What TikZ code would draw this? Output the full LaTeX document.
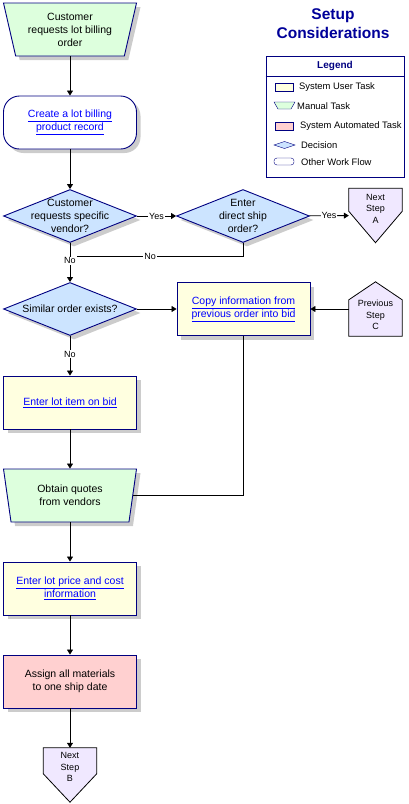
\documentclass[tikz,border=0pt]{standalone}
\usepackage{fontspec}
\setmainfont{Liberation Sans}
\usepackage{tikz}
\usetikzlibrary{positioning, shapes.geometric, shadows, arrows.meta}

\definecolor{navyline}{HTML}{000080}
\definecolor{titleblue}{HTML}{000099}
\definecolor{linkblue}{HTML}{0000FF}
\definecolor{manualfill}{HTML}{DDFFDD}
\definecolor{userfill}{HTML}{FFFFE0}
\definecolor{autofill}{HTML}{FFD0D0}
\definecolor{decisionfill}{HTML}{CCE4FF}
\definecolor{stepfill}{HTML}{F0E8FF}

\newcommand{\tasklink}[1]{\textcolor{linkblue}{\underline{#1}}}

\tikzset{
  boxtext/.style={font=\fontsize{10.5}{13}\selectfont, align=center},
  smalltext/.style={font=\fontsize{9.4}{11.5}\selectfont},
  taskshadow/.style={drop shadow={shadow xshift=4pt, shadow yshift=-4pt, fill=black!20, opacity=1}},
  taskbox/.style={rectangle, draw=navyline, line width=0.9pt, minimum width=133pt, minimum height=53pt, inner sep=2pt, boxtext, taskshadow},
  usertask/.style={taskbox, fill=userfill},
  autotask/.style={taskbox, fill=autofill},
  workflow/.style={taskbox, fill=white, rounded corners=16pt},
  manualtask/.style={trapezium, shape border rotate=180, trapezium stretches body=true, trapezium angle=70, draw=navyline, line width=0.9pt, fill=manualfill, minimum width=133pt, minimum height=53pt, inner sep=0pt, boxtext, taskshadow},
  decision/.style={diamond, draw=navyline, line width=0.9pt, fill=decisionfill, minimum width=133pt, minimum height=53pt, inner sep=0pt, taskshadow},
  decisiontext/.style={boxtext, inner sep=0pt},
  stepnode/.style={rectangle, minimum width=53pt, minimum height=54pt, inner sep=0pt},
  stepshape/.style={draw=black, line width=0.8pt, fill=stepfill},
  steptext/.style={font=\fontsize{9}{11.5}\selectfont, align=center, inner sep=0pt},
  flow/.style={line width=0.8pt, -{Triangle[length=5pt, width=6pt]}},
  plainflow/.style={line width=0.8pt},
  yesno/.style={font=\fontsize{9}{11.5}\selectfont, fill=white, inner sep=1pt},
}

\begin{document}
\begin{tikzpicture}[x=1pt, y=-1pt]
  \useasboundingbox (0,0) rectangle (409,804);

  % title and legend
  \node[font=\fontsize{15.5}{19}\selectfont\bfseries, text=titleblue, align=center] (title) at (333,24) {Setup\\Considerations};
  \node[draw=navyline, line width=0.9pt, minimum width=138pt, minimum height=121pt, inner sep=0pt] (legend) at (335,116.5) {};
  \draw[navyline, line width=0.9pt] (legend.north west) ++(0,21) -- ++(138,0);
  \node[font=\fontsize{10}{12}\selectfont\bfseries, text=navyline] (legendtitle) at (335,66) {Legend};
  \draw[navyline, fill=userfill] (275,83) rectangle (293,91);
  \draw[navyline, fill=manualfill] (274,102) -- (295,102) -- (291,109) -- (278,109) -- cycle;
  \draw[navyline, fill=autofill] (275,122) rectangle (293,130);
  \draw[navyline, fill=decisionfill] (274,145) -- (284.5,141.5) -- (295,145) -- (284.5,148.5) -- cycle;
  \draw[navyline, rounded corners=3pt] (274,158) rectangle (294,165);
  \foreach \x/\y/\t in {299/87/System User Task, 297/106/Manual Task, 300/126/System Automated Task, 301/145/Decision, 301/162/Other Work Flow}
  {
  \node[smalltext, anchor=west, inner sep=0pt] (leg\y) at (\x,\y) {\t};
  }

  % main flow
  \node[manualtask] (order) at (70,29.5) {Customer\\requests lot billing\\order};
  \node[workflow] (billing) at (70,122.5) {\tasklink{Create a lot billing}\\\tasklink{product record}};
  \node[decision, label={[decisiontext]center:{Customer\\requests specific\\vendor?}}] (vendor) at (70,216) {};
  \node[decision, label={[decisiontext]center:{Enter\\direct ship\\order?}}] (direct) at (243,216) {};
  \node[decision, label={[decisiontext]center:{Similar order exists?}}] (similar) at (70,309) {};
  \node[usertask] (copy) at (243.5,309) {\tasklink{Copy information from}\\\tasklink{previous order into bid}};
  \node[usertask] (item) at (70,402.5) {\tasklink{Enter lot item on bid}};
  \node[manualtask] (quotes) at (70,495.5) {Obtain quotes\\from vendors};
  \node[usertask] (price) at (70,588.5) {\tasklink{Enter lot price and cost}\\\tasklink{information}};
  \node[autotask] (assign) at (70,681.5) {Assign all materials\\to one ship date};

  % off-page steps
  \node[stepnode] (nexta) at (375.5,215.5) {};
  \draw[stepshape] (nexta.north west) -- (nexta.north east) -- ([yshift=-23pt]nexta.north east) -- (nexta.south) -- ([yshift=-23pt]nexta.north west) -- cycle;
  \node[steptext] (nextatext) at ([yshift=7pt]nexta.center) {Next\\Step\\A};
  \node[stepnode] (prevc) at (375.5,309) {};
  \draw[stepshape] (prevc.north) -- ([yshift=-18pt]prevc.north east) -- (prevc.south east) -- (prevc.south west) -- ([yshift=-18pt]prevc.north west) -- cycle;
  \node[steptext] (prevctext) at ([yshift=-6pt]prevc.center) {Previous\\Step\\C};
  \node[stepnode] (nextb) at (70,775) {};
  \draw[stepshape] (nextb.north west) -- (nextb.north east) -- ([yshift=-26pt]nextb.north east) -- (nextb.south) -- ([yshift=-26pt]nextb.north west) -- cycle;
  \node[steptext] (nextbtext) at ([yshift=8pt]nextb.center) {Next\\Step\\B};

  % connectors
  \coordinate (noend) at (77,256);
  \draw[flow] (billing.north |- order.south) -- (billing.north);
  \draw[flow] (billing) -- (vendor);
  \draw[flow] (vendor) -- node[yesno] {Yes} (direct);
  \draw[flow] (direct) -- node[yesno] {Yes} (nexta);
  \draw[flow] (vendor) -- node[yesno, pos=0.46] (novendor) {No} (similar);
  \draw[plainflow] (direct) |- node[yesno, pos=0.78] {No} (noend);
  \draw[flow] (similar) -- (copy);
  \draw[flow] (prevc) -- (copy);
  \draw[flow] (similar) -- node[yesno, pos=0.46] {No} (item);
  \draw[plainflow] (copy) |- (quotes);
  \draw[flow] (item.south) -- (item.south |- quotes.north);
  \draw[flow] (price.north |- quotes.south) -- (price.north);
  \draw[flow] (price) -- (assign);
  \draw[flow] (assign) -- (nextb);
\end{tikzpicture}
\end{document}
